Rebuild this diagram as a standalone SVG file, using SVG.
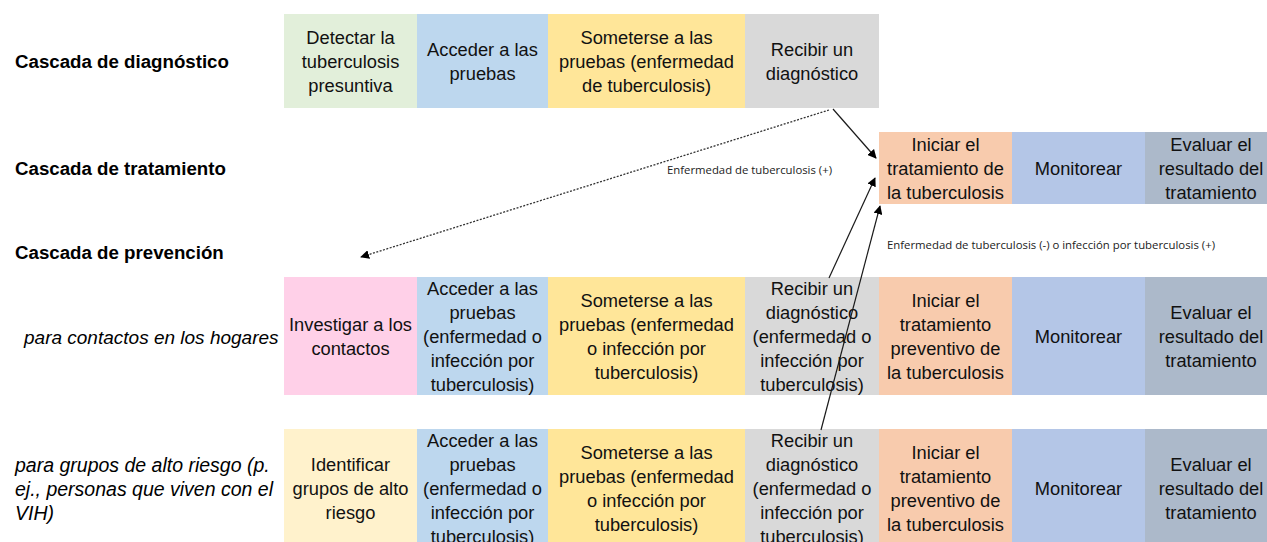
<svg xmlns="http://www.w3.org/2000/svg" width="1267" height="542" viewBox="0 0 1267 542">
<style>
.t{font-family:"Liberation Sans",Arial,sans-serif;font-size:18.3px;fill:#111;text-anchor:middle}
.h{font-family:"Liberation Sans",Arial,sans-serif;font-size:18.7px;font-weight:bold;fill:#000}
.i{font-family:"Liberation Sans",Arial,sans-serif;font-size:19.5px;font-style:italic;fill:#000}
.s{font-family:"Open Sans","Noto Sans",sans-serif;font-size:10px;fill:#222}
.ln{stroke:#1a1a1a;stroke-width:1.2;fill:none}
.dt{stroke:#333;stroke-width:1.3;fill:none;stroke-dasharray:2 1.5}
.green{fill:#E2EFDA}.blue{fill:#BDD7EE}.yellow{fill:#FFE699}.gray{fill:#D9D9D9}
.orange{fill:#F8CBAD}.mon{fill:#B4C6E7}.slate{fill:#ACB9CA}.pink{fill:#FFD0E8}.lyellow{fill:#FFF2CC}
</style>
<defs>
<marker id="ah" viewBox="0 0 10 10" refX="9" refY="5" markerWidth="9" markerHeight="9" markerUnits="userSpaceOnUse" orient="auto">
<path d="M0,0 L10,5 L0,10 z" fill="#000"/>
</marker>
</defs>
<rect width="1267" height="542" fill="#fff"/>

<g id="labels">
<text class="h" x="15" y="68">Cascada de diagnóstico</text>
<text class="h" x="15" y="175">Cascada de tratamiento</text>
<text class="h" x="15" y="259">Cascada de prevención</text>
<text class="i" x="24" y="344" style="font-size:19px">para contactos en los hogares</text>
<text class="i" x="15" y="472">para grupos de alto riesgo (p.</text>
<text class="i" x="15" y="496">ej., personas que viven con el</text>
<text class="i" x="15" y="520">VIH)</text>
</g>

<!-- Diagnosis cascade -->
<g id="d1"><rect class="green" x="284" y="14" width="133" height="94"/>
<text class="t" x="350.5" y="44">Detectar la</text><text class="t" x="350.5" y="68">tuberculosis</text><text class="t" x="350.5" y="92">presuntiva</text></g>
<g id="d2"><rect class="blue" x="417" y="14" width="131" height="94"/>
<text class="t" x="482.5" y="56">Acceder a las</text><text class="t" x="482.5" y="80">pruebas</text></g>
<g id="d3"><rect class="yellow" x="548" y="14" width="197" height="94"/>
<text class="t" x="646.5" y="44">Someterse a las</text><text class="t" x="646.5" y="68">pruebas (enfermedad</text><text class="t" x="646.5" y="92">de tuberculosis)</text></g>
<g id="d4"><rect class="gray" x="745" y="14" width="134" height="94"/>
<text class="t" x="812" y="56">Recibir un</text><text class="t" x="812" y="80">diagnóstico</text></g>

<!-- Treatment cascade -->
<g id="t1"><rect class="orange" x="879" y="132" width="133" height="72"/>
<text class="t" x="945.5" y="151">Iniciar el</text><text class="t" x="945.5" y="175">tratamiento de</text><text class="t" x="945.5" y="199">la tuberculosis</text></g>
<g id="t2"><rect class="mon" x="1012" y="132" width="133" height="72"/>
<text class="t" x="1078.5" y="175">Monitorear</text></g>
<g id="t3"><rect class="slate" x="1145" y="132" width="130" height="72"/>
<text class="t" x="1211" y="151">Evaluar el</text><text class="t" x="1211" y="175">resultado del</text><text class="t" x="1211" y="199">tratamiento</text></g>

<!-- Household contacts -->
<g id="h1"><rect class="pink" x="284" y="277" width="133" height="118"/>
<text class="t" x="350.5" y="331">Investigar a los</text><text class="t" x="350.5" y="355">contactos</text></g>
<g id="h2"><rect class="blue" x="417" y="277" width="131" height="118"/>
<text class="t" x="482.5" y="295">Acceder a las</text><text class="t" x="482.5" y="319">pruebas</text><text class="t" x="482.5" y="343">(enfermedad o</text><text class="t" x="482.5" y="367">infección por</text><text class="t" x="482.5" y="391">tuberculosis)</text></g>
<g id="h3"><rect class="yellow" x="548" y="277" width="197" height="118"/>
<text class="t" x="646.5" y="307">Someterse a las</text><text class="t" x="646.5" y="331">pruebas (enfermedad</text><text class="t" x="646.5" y="355">o infección por</text><text class="t" x="646.5" y="379">tuberculosis)</text></g>
<g id="h4"><rect class="gray" x="745" y="277" width="134" height="118"/>
<text class="t" x="812" y="295">Recibir un</text><text class="t" x="812" y="319">diagnóstico</text><text class="t" x="812" y="343">(enfermedad o</text><text class="t" x="812" y="367">infección por</text><text class="t" x="812" y="391">tuberculosis)</text></g>
<g id="h5"><rect class="orange" x="879" y="277" width="133" height="118"/>
<text class="t" x="945.5" y="307">Iniciar el</text><text class="t" x="945.5" y="331">tratamiento</text><text class="t" x="945.5" y="355">preventivo de</text><text class="t" x="945.5" y="379">la tuberculosis</text></g>
<g id="h6"><rect class="mon" x="1012" y="277" width="133" height="118"/>
<text class="t" x="1078.5" y="343">Monitorear</text></g>
<g id="h7"><rect class="slate" x="1145" y="277" width="130" height="118"/>
<text class="t" x="1211" y="319">Evaluar el</text><text class="t" x="1211" y="343">resultado del</text><text class="t" x="1211" y="367">tratamiento</text></g>

<!-- High-risk groups -->
<g id="r1"><rect class="lyellow" x="284" y="429" width="133" height="120"/>
<text class="t" x="350.5" y="471">Identificar</text><text class="t" x="350.5" y="495">grupos de alto</text><text class="t" x="350.5" y="519">riesgo</text></g>
<g id="r2"><rect class="blue" x="417" y="429" width="131" height="120"/>
<text class="t" x="482.5" y="447">Acceder a las</text><text class="t" x="482.5" y="471">pruebas</text><text class="t" x="482.5" y="495">(enfermedad o</text><text class="t" x="482.5" y="519">infección por</text><text class="t" x="482.5" y="543">tuberculosis)</text></g>
<g id="r3"><rect class="yellow" x="548" y="429" width="197" height="120"/>
<text class="t" x="646.5" y="459">Someterse a las</text><text class="t" x="646.5" y="483">pruebas (enfermedad</text><text class="t" x="646.5" y="507">o infección por</text><text class="t" x="646.5" y="531">tuberculosis)</text></g>
<g id="r4"><rect class="gray" x="745" y="429" width="134" height="120"/>
<text class="t" x="812" y="447">Recibir un</text><text class="t" x="812" y="471">diagnóstico</text><text class="t" x="812" y="495">(enfermedad o</text><text class="t" x="812" y="519">infección por</text><text class="t" x="812" y="543">tuberculosis)</text></g>
<g id="r5"><rect class="orange" x="879" y="429" width="133" height="120"/>
<text class="t" x="945.5" y="459">Iniciar el</text><text class="t" x="945.5" y="483">tratamiento</text><text class="t" x="945.5" y="507">preventivo de</text><text class="t" x="945.5" y="531">la tuberculosis</text></g>
<g id="r6"><rect class="mon" x="1012" y="429" width="133" height="120"/>
<text class="t" x="1078.5" y="495">Monitorear</text></g>
<g id="r7"><rect class="slate" x="1145" y="429" width="130" height="120"/>
<text class="t" x="1211" y="471">Evaluar el</text><text class="t" x="1211" y="495">resultado del</text><text class="t" x="1211" y="519">tratamiento</text></g>

<g id="connectors">
<line class="ln" x1="833" y1="109" x2="876" y2="158" marker-end="url(#ah)"/>
<line class="dt" x1="829" y1="110" x2="361" y2="257" marker-end="url(#ah)"/>
<line class="ln" x1="829" y1="278" x2="875" y2="178" marker-end="url(#ah)"/>
<line class="ln" x1="821" y1="430" x2="880" y2="206" marker-end="url(#ah)"/>
<text class="s" x="667" y="174" textLength="165" lengthAdjust="spacingAndGlyphs">Enfermedad de tuberculosis (+)</text>
<text class="s" x="887" y="249" textLength="328" lengthAdjust="spacingAndGlyphs">Enfermedad de tuberculosis (-) o infección por tuberculosis (+)</text>
</g>
</svg>
